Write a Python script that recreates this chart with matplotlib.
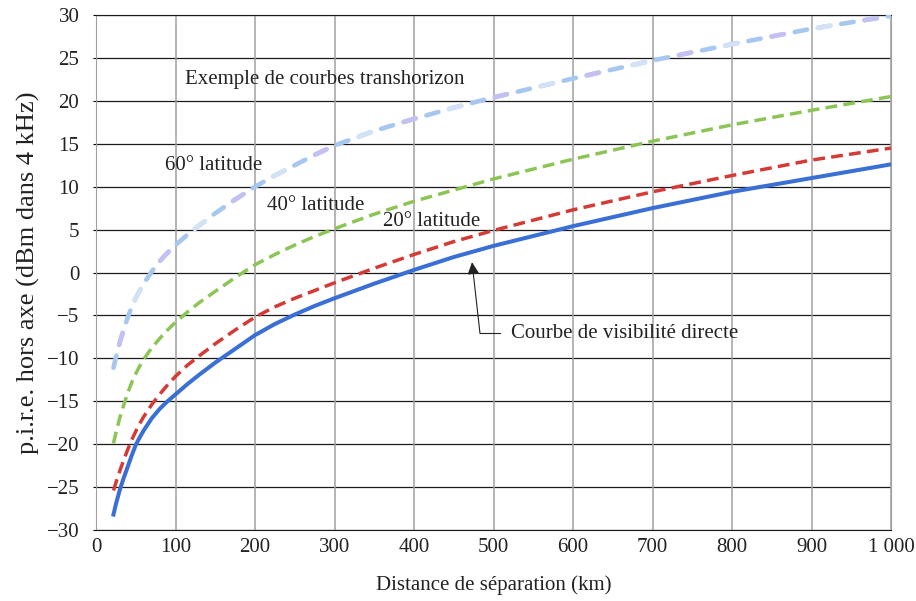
"""
p.i.r.e. hors axe vs distance de séparation (courbes transhorizon).
"""
import matplotlib
matplotlib.use("Agg")
import matplotlib.pyplot as plt
from matplotlib.ticker import FuncFormatter

# distance (km) and e.i.r.p. values (dBm in 4 kHz)
distance_km = [22, 25, 30, 35, 40, 45, 50, 55, 60, 70, 80, 90, 100, 115, 130,
               150, 175, 200, 225, 250, 275, 300, 350, 400, 450, 500, 600,
               700, 800, 900, 1000]
los = [-28.2, -27.0, -25.3, -23.9, -22.6, -21.3, -20.1, -19.2, -18.4, -17.0,
       -15.9, -15.0, -14.2, -13.0, -11.9, -10.5, -8.9, -7.3, -6.0, -4.9,
       -3.9, -3.0, -1.3, 0.3, 1.8, 3.1, 5.4, 7.5, 9.4, 11.0, 12.6]
lat20 = [-25.4, -24.5, -23.1, -21.8, -20.6, -19.5, -18.5, -17.6, -16.8, -15.4,
         -14.2, -13.1, -12.1, -10.8, -9.7, -8.3, -6.7, -5.2, -4.0, -3.0,
         -2.1, -1.2, 0.5, 2.1, 3.6, 4.9, 7.3, 9.4, 11.3, 13.1, 14.5]
lat40 = [-19.9, -18.7, -16.9, -15.4, -14.0, -12.8, -11.8, -10.9, -10.1, -8.8,
         -7.7, -6.7, -5.8, -4.6, -3.5, -2.2, -0.6, 0.9, 2.1, 3.2,
         4.2, 5.1, 6.8, 8.3, 9.6, 10.9, 13.2, 15.3, 17.2, 18.9, 20.5]
lat60 = [-11.1, -9.9, -8.1, -6.6, -5.2, -4.0, -3.0, -2.1, -1.3, 0.1,
         1.3, 2.3, 3.2, 4.4, 5.5, 6.9, 8.5, 10.0, 11.3, 12.5,
         13.7, 14.8, 16.5, 17.9, 19.2, 20.4, 22.6, 24.7, 26.6, 28.4, 29.9]

x_ticks = [0, 100, 200, 300, 400, 500, 600, 700, 800, 900, 1000]
y_ticks = [-30, -25, -20, -15, -10, -5, 0, 5, 10, 15, 20, 25, 30]

plt.rcParams["font.family"] = ["Liberation Serif", "DejaVu Serif"]
plt.rcParams["lines.scale_dashes"] = False

TXT = "#222222"
fs = 15

fig = plt.figure(figsize=(9.16, 6.01), dpi=100)
ax = fig.add_axes([96 / 916, 71 / 601, 795 / 916, 515 / 601])

# grid: dark horizontal lines, grey vertical ones
for y in y_ticks:
    ax.axhline(y, color="#1a1a1a", lw=0.9, zorder=1)
for x in x_ticks:
    ax.axvline(x, color="#a0a0a0", lw=1.1, zorder=1)

# 60° curve: pale blue dashes, some of them tinted lavender / pale grey
ax.plot(distance_km, lat60, color="#a6c8f0", lw=3.3,
        linestyle=(0, (9, 8)), dash_capstyle="round", zorder=3)
ax.plot(distance_km, lat60, color="#c4c0f2", lw=3.3,
        linestyle=(51, (9, 59)), dash_capstyle="round", zorder=3)
ax.plot(distance_km, lat60, color="#d3e3f5", lw=3.3,
        linestyle=(17, (9, 59)), dash_capstyle="round", zorder=3)

ax.plot(distance_km, lat40, color="#8cc456", lw=2.5,
        linestyle=(0, (8.5, 4.5)), zorder=3)
ax.plot(distance_km, lat20, color="#d43a36", lw=2.5,
        linestyle=(0, (8.5, 4.5)), zorder=3)
ax.plot(distance_km, los, color="#3a6fd6", lw=2.9, zorder=4)

ax.set_xlim(0, 1000)
ax.set_ylim(-30, 30)
ax.set_xticks(x_ticks)
ax.set_yticks(y_ticks)
ax.xaxis.set_major_formatter(FuncFormatter(
    lambda v, p: f"{int(v):,}".replace(",", " ")))
ax.yaxis.set_major_formatter(FuncFormatter(
    lambda v, p: f"{int(v)}".replace("-", "\u2212")))
ax.tick_params(axis="x", length=0, pad=6, labelsize=fs, labelcolor=TXT)
ax.tick_params(axis="y", length=2, pad=10, labelsize=fs, labelcolor=TXT)

for side in ("left", "right"):
    ax.spines[side].set_color("#a0a0a0")
ax.spines["top"].set_color("#1a1a1a")
ax.spines["bottom"].set_color("#1a1a1a")

ax.set_xlabel("Distance de séparation (km)", fontsize=fs, labelpad=13,
              color=TXT)
ax.set_ylabel("p.i.r.e. hors axe (dBm dans 4 kHz)", fontsize=19,
              labelpad=5, color=TXT)

ax.text(112, 22.5, "Exemple de courbes transhorizon", fontsize=fs,
        va="center", color=TXT)
ax.text(87, 12.5, "60° latitude", fontsize=fs, va="center", color=TXT)
ax.text(215, 7.8, "40° latitude", fontsize=fs, va="center", color=TXT)
ax.text(361, 5.9, "20° latitude", fontsize=fs, va="center", color=TXT)
ax.text(522, -7.1, "Courbe de visibilité directe", fontsize=fs,
        va="center", color=TXT)

# elbow arrow to the line-of-sight curve
ax.plot([508, 483], [-7.1, -7.1], color=TXT, lw=0.8, zorder=5)
ax.annotate("", xy=(473, 1.2), xytext=(483, -7.1),
            arrowprops=dict(arrowstyle="-|>,head_length=0.45,head_width=0.22",
                            color=TXT, lw=0.8, mutation_scale=16,
                            shrinkA=0, shrinkB=0),
            zorder=5)

fig.savefig("out.png", dpi=100)
